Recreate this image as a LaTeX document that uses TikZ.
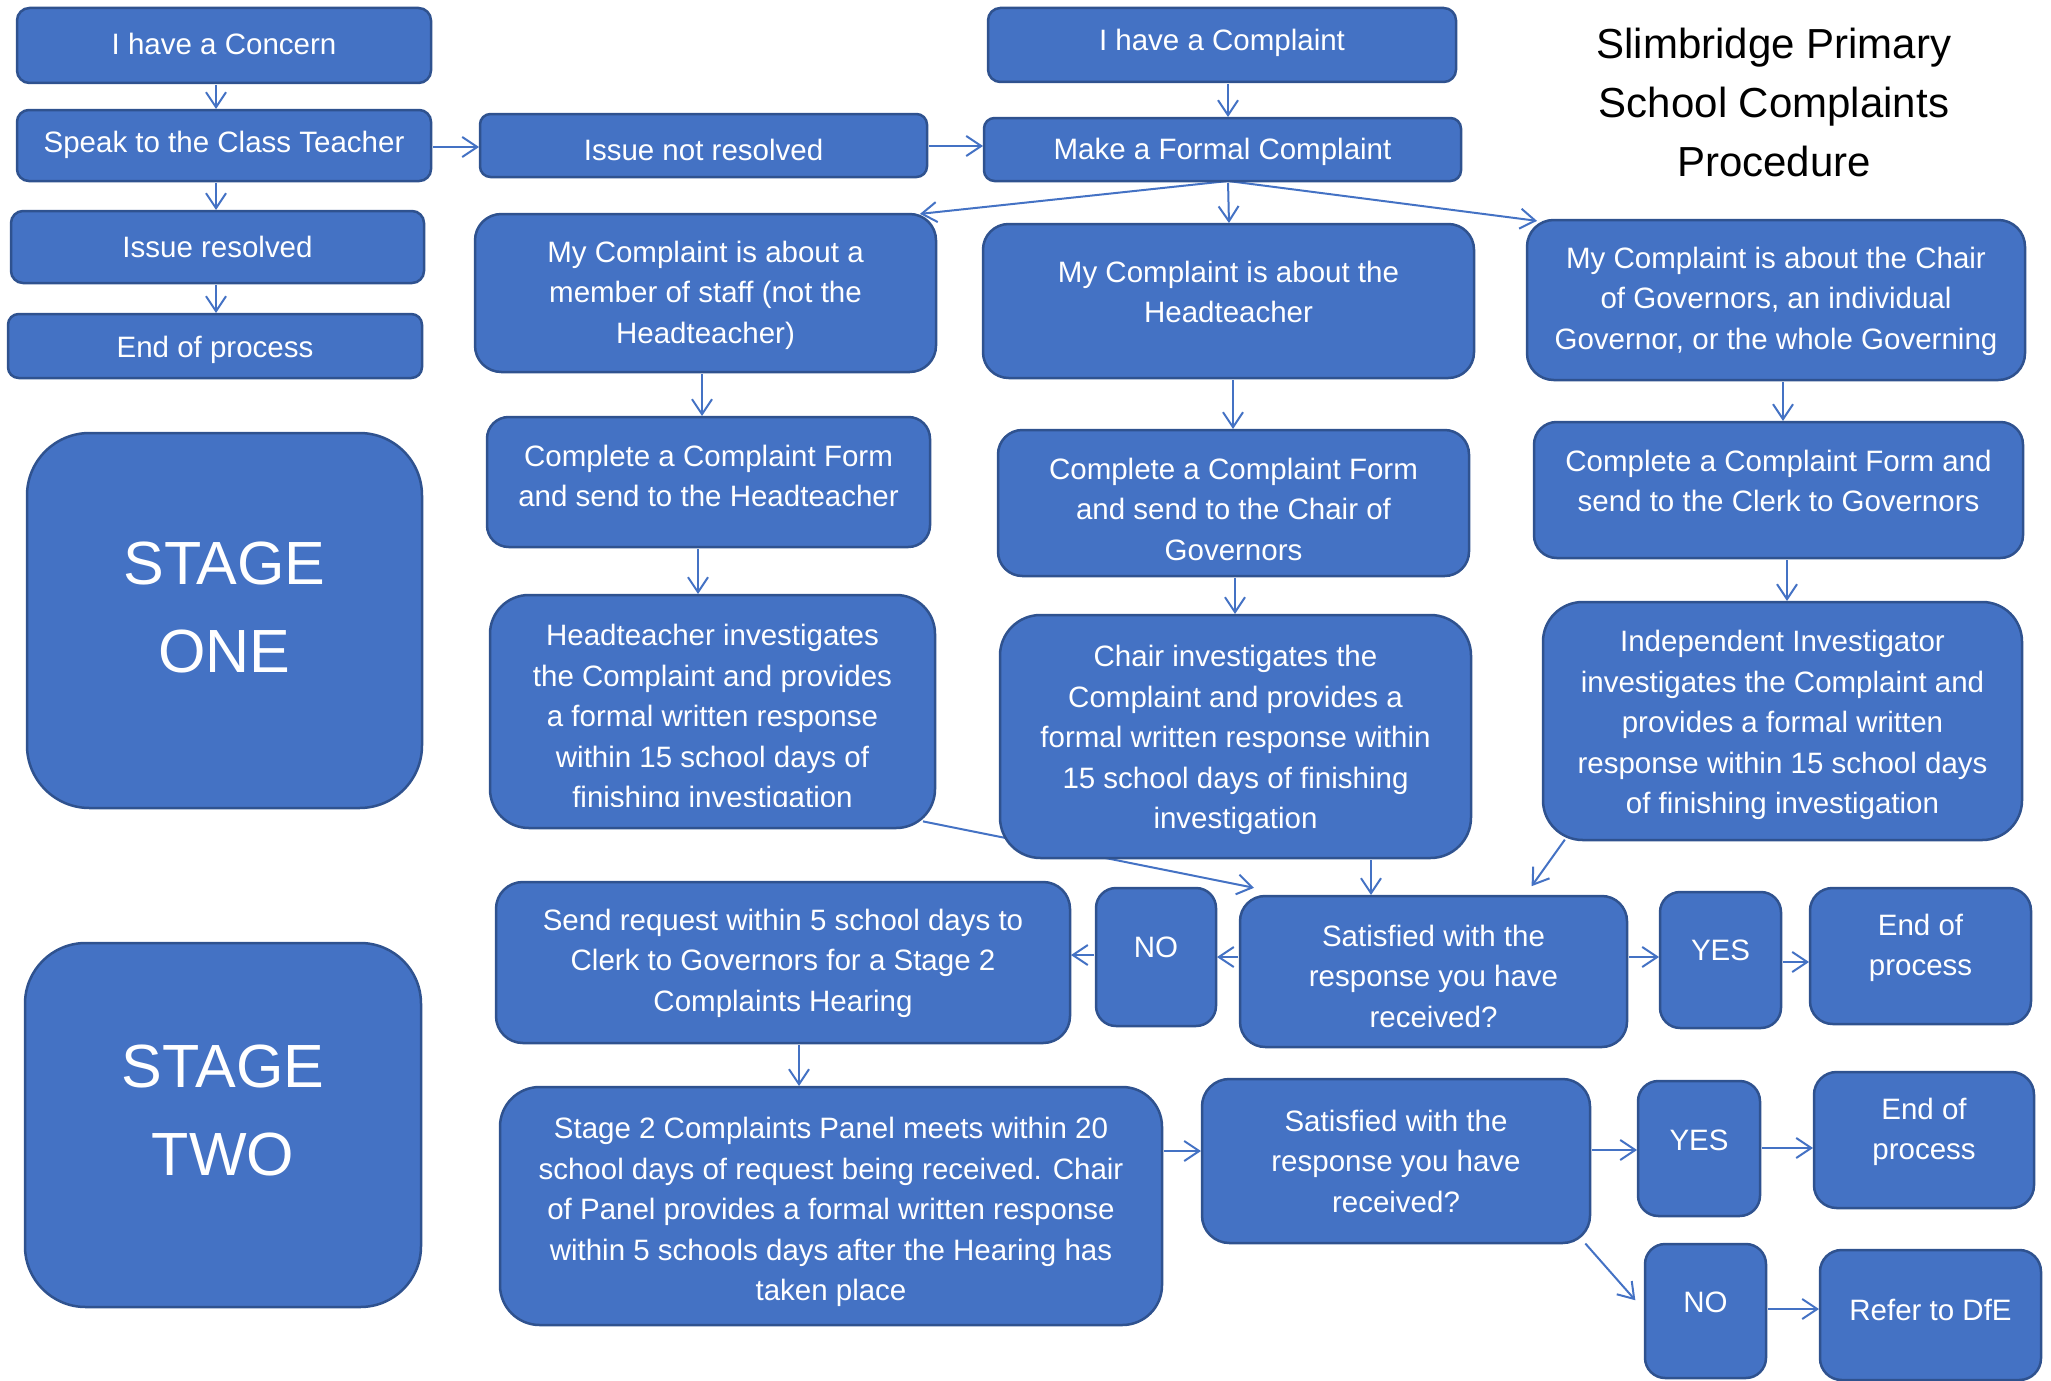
\documentclass[tikz,border=0pt]{standalone}
\usepackage{fontspec}
\setmainfont{Liberation Sans}
\usetikzlibrary{arrows.meta,calc}
\definecolor{bfill}{HTML}{4472C4}
\definecolor{bdraw}{HTML}{2F528F}
\pgfdeclarelayer{background}
\pgfsetlayers{background,main}
\tikzset{
  box/.style={fill=bfill,draw=bdraw,line width=2.5pt,inner sep=0pt,outer sep=0pt},
  txt/.style={text=white,align=center,inner sep=0pt,yshift=-3pt,font=\fontsize{29.5}{40.5}\selectfont},
  stagetxt/.style={font=\fontsize{61}{88}\selectfont},
  titletxt/.style={text=black,align=center,inner sep=0pt,font=\fontsize{42}{59}\selectfont},
  conn/.style={draw=bfill,line width=2pt,shorten <=2pt,shorten >=1pt,
    -{Straight Barb[length=15pt,width=20pt,line width=2pt]}}
}
% #1 text style, #2 name, #3 x1, #4 y1, #5 x2, #6 y2, #7 text y, #8 text
\newcommand\bx[8][]{%
  \pgfmathsetmacro\bxw{#5-#3}\pgfmathsetmacro\bxh{#6-#4}%
  \pgfmathsetmacro\bxr{min(\bxw,\bxh)/6}%
  \node[box,minimum width=\bxw pt,minimum height=\bxh pt,rounded corners=\bxr pt]
    (#2) at ({(#3+#5)/2},{(#4+#6)/2}) {};%
  \node[txt,#1] (#2t) at ({(#3+#5)/2},#7) {#8};%
}
\begin{document}
\begin{tikzpicture}[x=1pt,y=-1pt]
\useasboundingbox (0,0) rectangle (2051,1381);

% title
\node[titletxt] (title) at (1774,102) {Slimbridge Primary\\School Complaints\\Procedure};

% left column
\bx{concern}{17}{8}{431}{83}{41}{I have a Concern}
\bx{speak}{17}{110}{431}{181}{142}{Speak to the Class Teacher}
\bx{resolved}{11}{211}{424}{283}{244}{Issue resolved}
\bx{endA}{8}{314}{422}{378}{347}{End of process}
\bx{notres}{480}{114}{927}{177}{147}{Issue not resolved}

% complaint
\bx{complaint}{988}{8}{1456}{82}{40}{I have a Complaint}
\bx{formal}{984}{118}{1461}{181}{149}{Make a Formal Complaint}

\bx{staff}{475}{214}{936}{372}{292}{My Complaint is about a\\member of staff (not the\\Headteacher)}
\bx{head}{983}{224}{1474}{378}{289}{My Complaint is about the\\Headteacher}
\bx{chairg}{1527}{220}{2025}{380}{298}{My Complaint is about the Chair\\of Governors, an individual\\Governor, or the whole Governing}

\bx{cfHT}{487}{417}{930}{547}{473}{Complete a Complaint Form\\and send to the Headteacher}
\bx{cfCh}{998}{430}{1469}{576}{506}{Complete a Complaint Form\\and send to the Chair of\\Governors}
\bx{cfCl}{1534}{422}{2023}{558}{478}{Complete a Complaint Form and\\send to the Clerk to Governors}

% headteacher investigates (text clipped)
\bx{htinv}{490}{595}{935}{828}{715}{}
\begin{scope}
  \clip (490,595) rectangle (935,806);
  \node[txt] (htinvtext) at (712.5,716) {Headteacher investigates\\the Complaint and provides\\a formal written response\\within 15 school days of\\finishing investigation};
\end{scope}
\bx{chinv}{1000}{615}{1471}{858}{737}{Chair investigates the\\Complaint and provides a\\formal written response within\\15 school days of finishing\\investigation}
\bx{indep}{1543}{602}{2022}{840}{722}{Independent Investigator\\investigates the Complaint and\\provides a formal written\\response within 15 school days\\of finishing investigation}

% stage boxes
\bx[stagetxt]{stone}{27}{433}{422}{808}{604}{STAGE\\ONE}
\bx[stagetxt]{sttwo}{25}{943}{421}{1307}{1107}{STAGE\\TWO}

% stage one outcome
\bx{send}{496}{882}{1070}{1043}{960}{Send request within 5 school days to\\Clerk to Governors for a Stage 2\\Complaints Hearing}
\bx{noA}{1096}{888}{1216}{1026}{944}{NO}
\bx{satA}{1240}{896}{1627}{1047}{973}{Satisfied with the\\response you have\\received?}
\bx{yesA}{1660}{892}{1781}{1028}{947}{YES}
\bx{endB}{1810}{888}{2031}{1024}{945}{End of\\process}

% stage two
\bx{panel}{500}{1087}{1162}{1325}{1209}{Stage 2 Complaints Panel meets within 20\\school days of request being received. Chair\\of Panel provides a formal written response\\within 5 schools days after the Hearing has\\taken place}
\bx{satB}{1202}{1079}{1590}{1243}{1158}{Satisfied with the\\response you have\\received?}
\bx{yesB}{1638}{1081}{1760}{1216}{1137}{YES}
\bx{endC}{1814}{1072}{2034}{1208}{1129}{End of\\process}
\bx{noB}{1645}{1244}{1766}{1378}{1299}{NO}
\bx{refer}{1820}{1250}{2041}{1380}{1307}{Refer to DfE}

% connectors
\begin{pgfonlayer}{background}
\draw[conn] (concern.south -| 216,0) -- (speak.north -| 216,0);
\draw[conn] (speak.south -| 216,0) -- (resolved.north -| 216,0);
\draw[conn] (resolved.south -| 216,0) -- (endA.north -| 216,0);
\draw[conn] (speak.east |- 0,147) -- (notres.west |- 0,147);
\draw[conn] (notres.east |- 0,146) -- (formal.west |- 0,146);
\draw[conn] (complaint.south -| 1228,0) -- (formal.north -| 1228,0);
\draw[conn] (formal.south -| 1228,0) -- ($(staff.north east)+(-17,0)$);
\draw[conn] (formal.south -| 1228,0) -- (head.north -| 1229,0);
\draw[conn] (formal.south -| 1228,0) -- ($(chairg.north west)+(11,1)$);
\draw[conn] (staff.south -| 702,0) -- (cfHT.north -| 702,0);
\draw[conn] (head.south -| 1233,0) -- (cfCh.north -| 1233,0);
\draw[conn] (chairg.south -| 1783,0) -- (cfCl.north -| 1783,0);
\draw[conn] (cfHT.south -| 698,0) -- (htinv.north -| 698,0);
\draw[conn] (cfCh.south -| 1235,0) -- (chinv.north -| 1235,0);
\draw[conn] (cfCl.south -| 1787,0) -- (indep.north -| 1787,0);
\draw[conn] ($(htinv.south east)+(-14,-7)$) -- ($(satA.north west)+(15,-8)$);
\draw[conn] (chinv.south -| 1371,0) -- (satA.north -| 1371,0);
\draw[conn] ($(indep.south west)+(23,-2)$) -- ($(satA.north east)+(-96,-9)$);
\draw[conn] (satA.west |- 0,957) -- (noA.east |- 0,957);
\draw[conn] (noA.west |- 0,955) -- (send.east |- 0,955);
\draw[conn] (satA.east |- 0,957) -- (yesA.west |- 0,957);
\draw[conn] (yesA.east |- 0,962) -- (endB.west |- 0,962);
\draw[conn] (send.south -| 799,0) -- (panel.north -| 799,0);
\draw[conn] (panel.east |- 0,1151) -- (satB.west |- 0,1151);
\draw[conn] (satB.east |- 0,1150) -- (yesB.west |- 0,1150);
\draw[conn] (yesB.east |- 0,1148) -- (endC.west |- 0,1148);
\draw[conn] ($(satB.south east)+(-6,-1)$) -- ($(noB.north west)+(-9,57)$);
\draw[conn] (noB.east |- 0,1309) -- (refer.west |- 0,1309);
\end{pgfonlayer}
\end{tikzpicture}
\end{document}
